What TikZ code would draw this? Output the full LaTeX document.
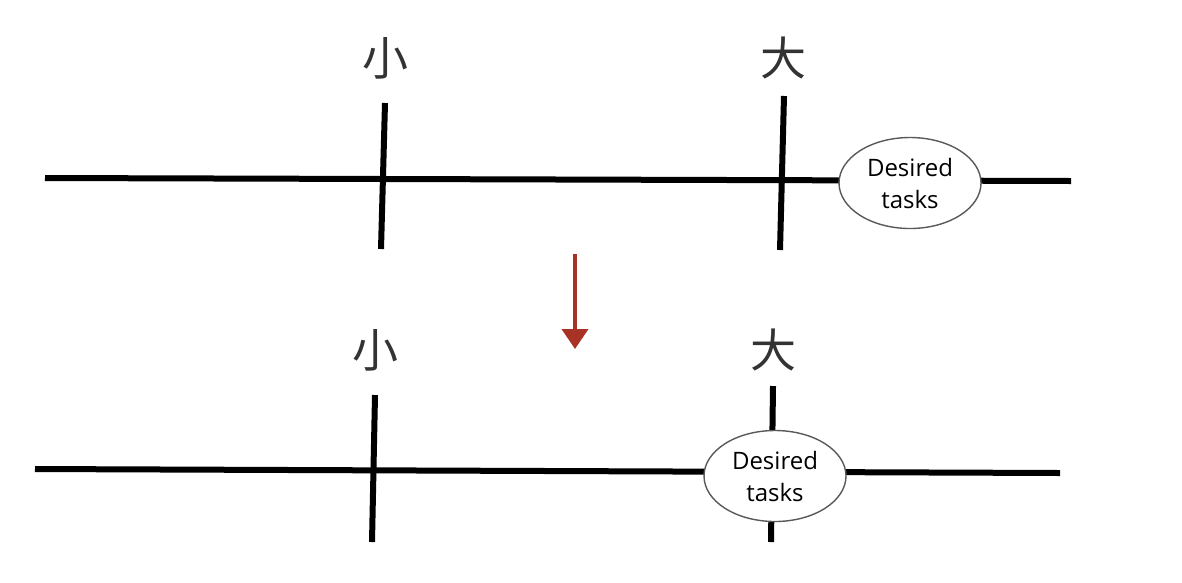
\documentclass[tikz,border=0pt]{standalone}
\usepackage{fontspec}
\setmainfont{Open Sans}
\newfontfamily\cjk{Noto Sans CJK SC}
\usetikzlibrary{arrows.meta, shapes.geometric, positioning}
\definecolor{arrowred}{HTML}{A93226}
\definecolor{labelgray}{HTML}{333333}
\tikzset{
    axis/.style={line width=6pt},
    tickline/.style={line width=6pt},
    sizelabel/.style={font=\cjk\fontsize{46}{50}\selectfont, text=labelgray},
    tasks/.style={draw=black!65, line width=1.4pt, fill=white, ellipse, minimum width=142pt, minimum height=91pt, inner sep=0pt, align=center, font=\fontsize{24}{32}\selectfont}
}
\begin{document}
\begin{tikzpicture}[x=1pt, y=-1pt]
                        \useasboundingbox (0, 0) rectangle (1182, 582);
                        % top scale
                        \coordinate (a1) at (45, 178);
                        \coordinate (a2) at (1071, 181);
                        \coordinate (s1t) at (385, 103);
                        \coordinate (s1b) at (381, 249);
                        \coordinate (l1t) at (784, 96);
                        \coordinate (l1b) at (780, 250);
                        \node[sizelabel] (small1) at (385, 58) {小};
                        \node[sizelabel] (large1) at (783, 58) {大};
                        \draw[axis] (a1) -- (a2);
                        \draw[tickline] (s1t) -- (s1b);
                        \draw[tickline] (l1t) -- (l1b);
                        \node[tasks] (d1) at (910, 183) {Desired\\tasks};
                        % arrow
                        \coordinate (m1) at (575, 254);
                        \coordinate (m2) at (575, 349);
                        \draw[arrowred, line width=4pt, -{Triangle[width=26pt, length=20pt]}] (m1) -- (m2);
                        % bottom scale
                        \coordinate (b1) at (35, 469);
                        \coordinate (b2) at (1060, 473);
                        \coordinate (s2t) at (375, 395);
                        \coordinate (s2b) at (372, 542);
                        \coordinate (l2t) at (773, 386);
                        \coordinate (l2b) at (771, 542);
                        \node[sizelabel] (small2) at (375, 350) {小};
                        \node[sizelabel] (large2) at (773, 350) {大};
                        \draw[axis] (b1) -- (b2);
                        \draw[tickline] (s2t) -- (s2b);
                        \draw[tickline] (l2t) -- (l2b);
                        \node[tasks] (d2) at (775, 476) {Desired\\tasks};
                    \end{tikzpicture}
\end{document}
